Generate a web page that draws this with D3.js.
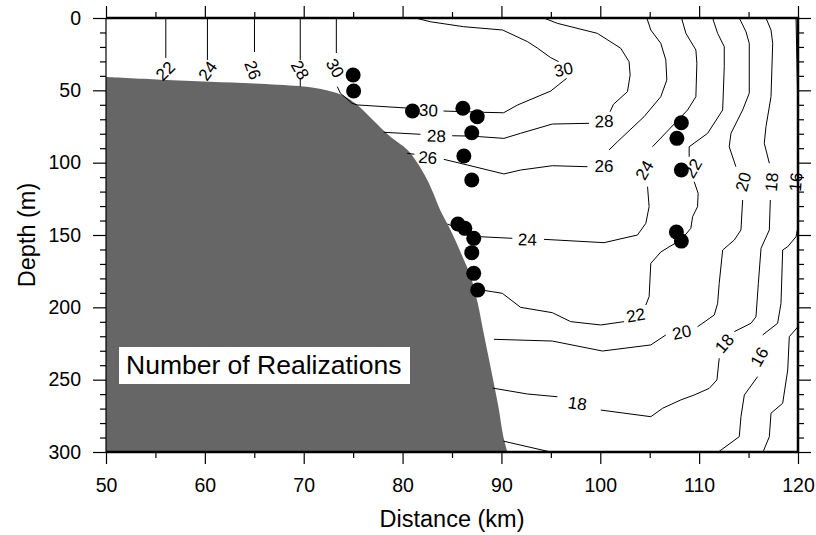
<!DOCTYPE html>
<html lang="en">
<head>
<meta charset="UTF-8">
<title>Temperature section</title>
<script src="https://d3js.org/d3.v7.min.js"></script>
<style>
  body { margin: 0; background: #fff; }
  svg { display: block; font-family: "Liberation Sans", Arial, Helvetica, sans-serif; }
</style>
</head>
<body>
<div id="chart"></div>
<script>
// tick values
const xMajor = [50, 60, 70, 80, 90, 100, 110, 120];
const xMinor = [55, 65, 75, 85, 95, 105, 115];
const yMajor = [0, 50, 100, 150, 200, 250, 300];
const yMinor = [10, 20, 30, 40, 60, 70, 80, 90, 110, 120, 130, 140, 160, 170, 180, 190,
                210, 220, 230, 240, 260, 270, 280, 290];

// masked (shaded) area edge: distance (km), depth (m)
const shelfX =     [50, 55.5, 60.5, 65, 69.5, 71, 72.5, 74, 75.4, 77, 78.8, 80.5, 81.5, 82.5,
                    83.1, 83.8, 84.85, 85.9, 86.9, 87.6, 88.2, 88.9, 89.7, 90.2, 90.6];
const shelfDepth = [40.8, 42.6, 44.0, 45.2, 47.0, 48.3, 50.3, 53.5, 60, 70.5, 82.3, 91.2, 100.2, 112,
                    121, 132.7, 146.5, 162.4, 179, 197, 217.7, 241.2, 268.9, 289.6, 300];

// sample stations
const dotX =     [75.0, 75.05, 81.0, 86.1, 87.55, 87.0, 86.2, 87.0, 85.6, 86.3, 87.2, 87.0, 87.2, 87.6,
                  108.2, 107.75, 108.2, 107.7, 108.2];
const dotDepth = [39.4, 50.5, 64.3, 62.4, 68.2, 79.3, 95.4, 112.0, 142.4, 145.4, 152.3, 162.2, 176.5, 188.0,
                  72.4, 83.2, 105.1, 147.9, 154.2];

// contour pieces, [km, m], broken where labels sit
const c30 = [
  [[73.3, 0], [73.3, 24.2]],
  [[73.4, 47.5], [73.71, 52.0], [74.89, 59.0], [75.43, 60.1], [80.8, 62.4]],
  [[84.14, 64.3], [88.19, 65.2], [90.22, 65.5], [91.64, 60.1], [94.98, 50.5], [96.6, 41.7]],
  [[95.79, 30.2], [94.98, 27.4], [93.66, 20.9], [92.65, 16.4], [90.12, 8.3], [86.17, 6.0], [82.82, 2.6], [81.3, 0]]
];
const c28 = [
  [[69.65, 0], [69.65, 29.0]],
  [[69.65, 42.2], [69.65, 47.5]],
  [[78.09, 79.0], [81.81, 80.4]],
  [[85.02, 81.4], [86.88, 81.6], [90.25, 83.2], [91.94, 79.7], [95.15, 73.3], [98.86, 72.8]],
  [[100.99, 64.8], [101.33, 59.7], [102.75, 50.9], [103.02, 39.4], [102.91, 30.2], [102.07, 20.9],
   [99.7, 10.6], [95.66, 3.7], [94.3, 0]]
];
const c26 = [
  [[65.02, 0], [65.02, 23.5]],
  [[80.46, 93.5], [81.2, 94.2]],
  [[84.17, 97.7], [86.54, 101.6], [90.25, 107.8], [91.94, 105.1], [95.15, 102.1], [98.7, 102.8]],
  [[100.89, 91.2], [101.74, 85.5], [104.43, 68.2], [106.12, 54.4], [106.73, 42.9], [106.63, 29.0],
   [106.12, 17.5], [105.11, 8.3], [104.71, 0]]
];
const c24 = [
  [[60.26, 0], [60.26, 29.0]],
  [[84.55, 142.4], [86.37, 147.9], [87.89, 151.2], [91.1, 152.3]],
  [[94.3, 153.0], [100.38, 155.3], [103.76, 150.0], [104.61, 141.9], [104.94, 130.4], [104.78, 116.6]],
  [[105.28, 89.0], [108.83, 63.6], [109.67, 54.4], [109.77, 31.3], [109.67, 22.1], [108.66, 10.6], [108.22, 0]]
];
const c22 = [
  [[56.05, 0], [56.05, 27.6]],
  [[111.36, 0], [111.87, 10.6], [112.54, 19.8], [112.54, 33.7], [112.38, 63.6], [110.86, 79.7],
   [108.99, 89.0], [108.99, 95.9]],
  [[109.5, 113.2], [109.9, 121.2], [109.84, 130.4], [109.34, 137.3], [109.16, 145.4], [108.15, 153.5],
   [106.94, 158.3], [106.13, 161.7], [105.11, 169.6], [104.94, 192.6], [104.61, 198.4]],
  [[102.41, 209.9], [100.05, 212.2], [97.01, 209.9], [95.15, 203.7], [91.94, 200.0], [90.09, 190.3],
   [89.08, 189.2], [87.89, 188.0]]
];
const c20 = [
  [[114.06, 0], [114.74, 9.5], [115.07, 17.5], [115.07, 52.0], [114.4, 63.6], [113.22, 79.7],
   [113.04, 89.0], [113.72, 102.8]],
  [[114.4, 125.8], [114.23, 146.5], [113.55, 153.5], [112.38, 160.4], [112.03, 183.4], [111.87, 197.2],
   [111.53, 205.3], [109.84, 213.4]],
  [[106.63, 219.1], [105.11, 226.0], [100.22, 230.2], [95.15, 223.3], [89.24, 222.1]]
];
const c18 = [
  [[116.76, 0], [117.27, 8.3], [117.44, 17.5], [117.27, 54.4], [116.76, 75.1], [116.59, 86.6], [117.1, 100.4]],
  [[117.2, 125.8], [117.1, 146.5], [116.26, 159.2], [115.99, 183.4], [115.75, 206.5], [115.25, 211.0],
   [113.56, 216.8]],
  [[112.03, 235.2], [111.8, 250.2], [111.02, 256.0], [109.5, 260.6], [108.15, 264.0], [106.3, 269.8],
   [105.11, 275.6], [100.05, 271.0]],
  [[95.66, 261.8], [92.62, 259.9], [89.1, 255.8]]
];
const c16 = [
  [[119.8, 0], [119.97, 56.7], [120, 102.8]],
  [[120, 125.8], [120, 144.3], [119.8, 151.2], [118.96, 158.1], [118.45, 160.4], [118.28, 197.2],
   [117.94, 211.0], [116.43, 219.1]],
  [[115.92, 247.9], [114.57, 260.6], [114.23, 275.6], [114.06, 289.4], [111.94, 300], [94.98, 300], [90.2, 292.5]]
];
const c14 = [
  [[120, 213.4], [119.12, 220.3], [118.96, 243.3], [118.45, 266.3], [117.27, 273.2], [117.1, 289.4], [116.46, 300]]
];
const contours = [c30, c28, c26, c24, c22, c20, c18, c16, c14];

// contour labels
const labelText  = ["22", "24", "26", "28", "30", "30", "30", "28", "28", "26", "26", "24", "24",
                    "22", "22", "20", "20", "18", "18", "18", "16", "16"];
const labelX     = [55.98, 60.26, 64.86, 69.65, 73.2, 82.62, 96.27, 83.43, 100.38, 82.55, 100.38, 92.62, 104.43,
                    109.34, 103.59, 114.45, 108.25, 117.32, 112.54, 97.69, 119.75, 116.08];
const labelDepth = [36.4, 36.4, 35.9, 35.9, 34.6, 63.6, 35.5, 81.4, 71.2, 96.3, 102.3, 153.0, 105.1,
                    103.9, 205.3, 113.2, 217.0, 113.4, 224.9, 266.3, 113.4, 234.1];
const labelAngle = [-45, -55, 70, 60, 60, 2, -12, 2, -2, 4, 0, 1, -60,
                    -60, -10, -75, -12, -85, -50, 8, -85, -60];

const width = 816, height = 535;

const x = d3.scaleLinear().domain([50, 120]).range([106, 798]);
const y = d3.scaleLinear().domain([0, 300]).range([18, 452]);

const svg = d3.select("#chart").append("svg")
    .attr("width", width)
    .attr("height", height);

svg.append("rect").attr("width", width).attr("height", height).attr("fill", "#fff");

// shaded area: smooth edge, then closed along the bottom-left
const shelf = shelfX.map((d, i) => [d, shelfDepth[i]]);
const edge = d3.line().x(d => x(d[0])).y(d => y(d[1])).curve(d3.curveCatmullRom)(shelf);
svg.append("path")
    .attr("d", edge + `L${x(50)},${y(300)}Z`)
    .attr("fill", "#666");

// contours
const line = d3.line().x(d => x(d[0])).y(d => y(d[1]));
svg.append("g")
    .attr("fill", "none")
    .attr("stroke", "#000")
    .attr("stroke-width", 1)
    .attr("stroke-linejoin", "round")
  .selectAll("path")
  .data(contours.flat())
  .join("path")
    .attr("d", line);

svg.append("g")
    .attr("font-size", 17)
    .attr("text-anchor", "middle")
  .selectAll("text")
  .data(labelText)
  .join("text")
    .attr("transform", (d, i) => `translate(${x(labelX[i])},${y(labelDepth[i])}) rotate(${labelAngle[i]})`)
    .attr("dy", "0.36em")
    .text(d => d);

// stations
svg.append("g")
  .selectAll("circle")
  .data(dotX)
  .join("circle")
    .attr("cx", d => x(d))
    .attr("cy", (d, i) => y(dotDepth[i]))
    .attr("r", 7.5)
    .attr("fill", "#000");

// axes
function styleAxis(g) {
  g.select(".domain").remove();
  g.selectAll("line").attr("stroke", "#000").attr("stroke-width", 1.2);
  g.selectAll("text").attr("font-size", 19.5).attr("fill", "#000")
      .attr("font-family", "'Liberation Sans', Arial, Helvetica, sans-serif");
}
svg.append("g").attr("transform", "translate(0,452)")
    .call(d3.axisBottom(x).tickValues(xMajor).tickSize(12).tickPadding(14).tickFormat(d3.format("d")))
    .call(styleAxis);
svg.append("g").attr("transform", "translate(0,452)")
    .call(d3.axisBottom(x).tickValues(xMinor).tickSize(6).tickFormat(""))
    .call(styleAxis);
svg.append("g").attr("transform", "translate(0,18)")
    .call(d3.axisTop(x).tickValues(xMajor).tickSize(12).tickFormat(""))
    .call(styleAxis);
svg.append("g").attr("transform", "translate(0,18)")
    .call(d3.axisTop(x).tickValues(xMinor).tickSize(6).tickFormat(""))
    .call(styleAxis);
svg.append("g").attr("transform", "translate(106,0)")
    .call(d3.axisLeft(y).tickValues(yMajor).tickSize(13).tickPadding(12).tickFormat(d3.format("d")))
    .call(styleAxis);
svg.append("g").attr("transform", "translate(106,0)")
    .call(d3.axisLeft(y).tickValues(yMinor).tickSize(6).tickFormat(""))
    .call(styleAxis);
svg.append("g").attr("transform", "translate(798,0)")
    .call(d3.axisRight(y).tickValues(yMajor).tickSize(13).tickFormat(""))
    .call(styleAxis);
svg.append("g").attr("transform", "translate(798,0)")
    .call(d3.axisRight(y).tickValues(yMinor).tickSize(6).tickFormat(""))
    .call(styleAxis);

// frame
svg.append("line").attr("x1", 106).attr("x2", 106).attr("y1", 18).attr("y2", 452)
    .attr("stroke", "#000").attr("stroke-width", 1.2);
svg.append("path")
    .attr("d", "M106,18H798V452H106")
    .attr("fill", "none").attr("stroke", "#000").attr("stroke-width", 2.5);

// legend box
svg.append("rect").attr("x", 119).attr("y", 347).attr("width", 291).attr("height", 37).attr("fill", "#fff");
svg.append("text").attr("x", 126).attr("y", 374).attr("font-size", 26.5).text("Number of Realizations");

// axis titles
svg.append("text")
    .attr("x", 452).attr("y", 527)
    .attr("text-anchor", "middle")
    .attr("font-size", 23.5)
    .text("Distance (km)");
svg.append("text")
    .attr("transform", "translate(35,235) rotate(-90)")
    .attr("text-anchor", "middle")
    .attr("font-size", 23.5)
    .text("Depth (m)");
</script>
</body>
</html>
